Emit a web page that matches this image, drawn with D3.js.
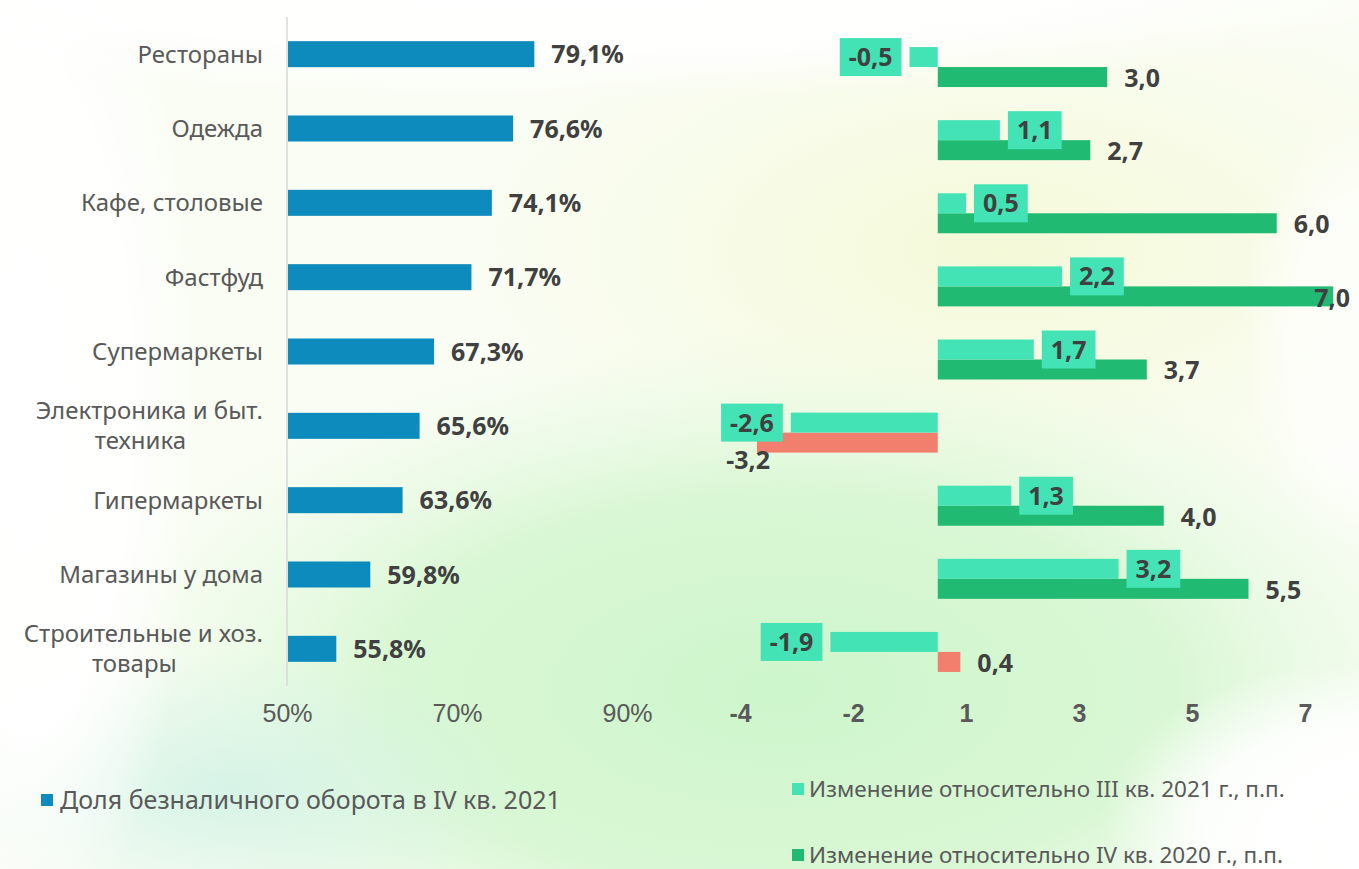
<!DOCTYPE html>
<html>
<head>
<meta charset="utf-8">
<script src="https://cdn.jsdelivr.net/npm/d3@7"></script>
<style>
  body { margin: 0; background: #fff; }
  svg { display: block; font-family: "Noto Sans", "Open Sans", sans-serif; }
</style>
</head>
<body>
<svg id="chart" width="1359" height="869"></svg>
<script>
// categories, top to bottom
var categories = [
  "Рестораны",
  "Одежда",
  "Кафе, столовые",
  "Фастфуд",
  "Супермаркеты",
  "Электроника и быт.\nтехника",
  "Гипермаркеты",
  "Магазины у дома",
  "Строительные и хоз.\nтовары"
];

// share of cashless turnover, Q4 2021, %
var shareQ4 = [79.1, 76.6, 74.1, 71.7, 67.3, 65.6, 63.6, 59.8, 55.8];

// change vs Q3 2021, p.p.
var changeQ3 = [-0.5, 1.1, 0.5, 2.2, 1.7, -2.6, 1.3, 3.2, -1.9];

// change vs Q4 2020, p.p.
var changeQ4prev = [3.0, 2.7, 6.0, 7.0, 3.7, -3.2, 4.0, 5.5, 0.4];

var leftTicks = [50, 70, 90];
var rightTicks = [-3.5, -1.5, 0.5, 2.5, 4.5, 6.5];

var seriesNames = [
  "Доля безналичного оборота в IV кв. 2021",
  "Изменение относительно III кв. 2021 г., п.п.",
  "Изменение относительно IV кв. 2020 г., п.п."
];

var blue = "#0e8bbd",
    teal = "#44e3b5",
    green = "#21ba72",
    salmon = "#f27e6e",
    textDark = "#404040",
    textGray = "#595959";

var svg = d3.select("#chart");
var defs = svg.append("defs");

// background glow
function radial(id, stops) {
  var g = defs.append("radialGradient").attr("id", id);
  stops.forEach(function(s) {
    g.append("stop").attr("offset", s[0]).attr("stop-color", s[1]).attr("stop-opacity", s[2]);
  });
}
radial("glowGreen", [[0, "#cdf6cc", 1], [0.55, "#d4f6cf", 0.85], [1, "#e8fae4", 0]]);
radial("glowYellow", [[0, "#f4f9d8", 1], [1, "#f6fadc", 0]]);
radial("glowWhite", [[0, "#ffffff", 1], [0.6, "#ffffff", 0.9], [1, "#ffffff", 0]]);
radial("glowCyan", [[0, "#d3f2e6", 0.9], [1, "#d5f3e6", 0]]);

svg.append("rect").attr("width", 1359).attr("height", 869).attr("fill", "#fafdf4");
svg.append("ellipse").attr("cx", 1000).attr("cy", 250).attr("rx", 560).attr("ry", 280).attr("fill", "url(#glowYellow)");
svg.append("ellipse").attr("cx", 780).attr("cy", 690).attr("rx", 720).attr("ry", 360).attr("fill", "url(#glowGreen)");
svg.append("ellipse").attr("cx", 230).attr("cy", 790).attr("rx", 300).attr("ry", 140).attr("fill", "url(#glowCyan)");
svg.append("ellipse").attr("cx", 560).attr("cy", -20).attr("rx", 900).attr("ry", 120).attr("fill", "url(#glowWhite)");
svg.append("ellipse").attr("cx", 30).attr("cy", 400).attr("rx", 170).attr("ry", 560).attr("fill", "url(#glowWhite)");
svg.append("ellipse").attr("cx", 1360).attr("cy", 830).attr("rx", 260).attr("ry", 170).attr("fill", "url(#glowWhite)");
svg.append("ellipse").attr("cx", 1360).attr("cy", 330).attr("rx", 120).attr("ry", 220).attr("fill", "url(#glowWhite)").attr("opacity", 0.7);

// ---------- left panel ----------
var xL = d3.scaleLinear().domain([50, 100]).range([287, 712]);
var yL = d3.scaleBand().domain(d3.range(categories.length))
    .range([17, 686]).paddingInner(0.65).paddingOuter(0.325);

var left = svg.append("g");

left.append("line")
    .attr("x1", xL(50)).attr("x2", xL(50))
    .attr("y1", 17).attr("y2", 686)
    .attr("stroke", "#d9d9d9").attr("stroke-width", 1.5);

left.selectAll("rect.share")
    .data(shareQ4)
  .enter().append("rect")
    .attr("class", "share")
    .attr("x", xL(50) + 1)
    .attr("y", function(d, i) { return yL(i); })
    .attr("width", function(d) { return xL(d) - xL(50) - 1; })
    .attr("height", yL.bandwidth())
    .attr("fill", blue);

left.selectAll("text.share")
    .data(shareQ4)
  .enter().append("text")
    .attr("class", "share")
    .attr("x", function(d) { return xL(d) + 17; })
    .attr("y", function(d, i) { return yL(i) + yL.bandwidth() / 2; })
    .attr("dy", "0.36em")
    .attr("font-size", 25).attr("font-weight", "bold")
    .attr("fill", textDark)
    .text(function(d) { return d3.format(".1f")(d).replace(".", ",") + "%"; });

// category labels (wrapped ones are centred under the first line)
categories.forEach(function(c, i) {
  var lines = c.split("\n"),
      cy = yL(i) + yL.bandwidth() / 2;
  if (lines.length == 1) {
    left.append("text")
        .attr("font-size", 24).attr("fill", textGray)
        .attr("text-anchor", "end")
        .attr("x", 263).attr("y", cy).attr("dy", "0.36em").text(c);
    return;
  }
  var first = left.append("text")
      .attr("font-size", 24).attr("fill", textGray)
      .attr("text-anchor", "end")
      .attr("x", 263).attr("y", cy - 15).attr("dy", "0.36em").text(lines[0]);
  var w = first.node().getComputedTextLength();
  left.append("text")
      .attr("font-size", 24).attr("fill", textGray)
      .attr("text-anchor", "middle")
      .attr("x", 263 - w / 2 - 9).attr("y", cy + 15).attr("dy", "0.36em").text(lines[1]);
});

var axisL = left.append("g")
    .attr("transform", "translate(0,704)")
    .call(d3.axisBottom(xL).tickValues(leftTicks).tickSize(0).tickFormat(function(d) { return d + "%"; }));
axisL.select(".domain").remove();
axisL.selectAll("text").attr("font-size", 25).attr("fill", textGray)
    .attr("font-family", null).attr("dy", "0.71em").attr("y", 0);

// ---------- right panel ----------
var xR = d3.scaleLinear().domain([-3.5, 7.5]).range([740, 1361.5]);
var yR = d3.scaleBand().domain(d3.range(categories.length))
    .range([30.5, 688.5]).paddingInner(0.453).paddingOuter(0.2265);
var ySub = d3.scaleBand().domain([0, 1]).range([0, yR.bandwidth()]);

var right = svg.append("g");
var fmt = function(v) { return d3.format(".1f")(v).replace(".", ",").replace("−", "-"); };

// change vs IV 2020 (lower bar)
right.selectAll("rect.prev")
    .data(changeQ4prev)
  .enter().append("rect")
    .attr("class", "prev")
    .attr("x", function(d) { return Math.min(xR(0), xR(d)); })
    .attr("y", function(d, i) { return yR(i) + ySub(1); })
    .attr("width", function(d) { return Math.abs(xR(d) - xR(0)); })
    .attr("height", ySub.bandwidth())
    .attr("fill", function(d) { return d < 1 ? salmon : green; });

// change vs III 2021 (upper bar)
right.selectAll("rect.q3")
    .data(changeQ3)
  .enter().append("rect")
    .attr("class", "q3")
    .attr("x", function(d) { return Math.min(xR(0), xR(d)); })
    .attr("y", function(d, i) { return yR(i) + ySub(0); })
    .attr("width", function(d) { return Math.abs(xR(d) - xR(0)); })
    .attr("height", ySub.bandwidth())
    .attr("fill", teal);

// labels for IV 2020 series
right.selectAll("text.prev")
    .data(changeQ4prev)
  .enter().append("text")
    .attr("class", "prev")
    .attr("font-size", 25).attr("font-weight", "bold")
    .attr("fill", textDark)
    .attr("dy", "0.36em")
    .text(fmt)
    .each(function(d, i) {
      var t = d3.select(this),
          cy = yR(i) + ySub(1) + ySub.bandwidth() / 2,
          w = this.getComputedTextLength();
      if (d < 0) {
        t.attr("text-anchor", "end").attr("x", xR(d) + 13).attr("y", cy + 17);
      } else if (xR(d) + 17 + w > 1355) {
        t.attr("text-anchor", "end").attr("x", 1350).attr("y", cy + 2);
      } else {
        t.attr("x", xR(d) + 17).attr("y", cy + 1);
      }
    });

// boxed labels for III 2021 series
var q3Lab = right.selectAll("g.q3lab")
    .data(changeQ3)
  .enter().append("g")
    .attr("class", "q3lab");

q3Lab.each(function(d, i) {
  var g = d3.select(this),
      cy = yR(i) + ySub(0) + ySub.bandwidth() / 2;
  var rect = g.append("rect").attr("fill", teal);
  var t = g.append("text")
      .attr("font-size", 25).attr("font-weight", "bold")
      .attr("fill", textDark).attr("text-anchor", "middle")
      .attr("dy", "0.36em").attr("y", cy)
      .text(fmt(d));
  var w = t.node().getComputedTextLength() + 18,
      x0 = d < 0 ? xR(d) - 8 - w : xR(d) + 8;
  rect.attr("x", x0).attr("y", cy - 19).attr("width", w).attr("height", 38);
  t.attr("x", x0 + w / 2);
});

var axisR = right.append("g")
    .attr("transform", "translate(0,704)")
    .call(d3.axisBottom(xR).tickValues(rightTicks).tickSize(0)
      .tickFormat(function(d) { return String(Math.sign(d) * Math.round(Math.abs(d))); }));
axisR.select(".domain").remove();
axisR.selectAll("text").attr("font-size", 25).attr("font-weight", "bold")
    .attr("fill", textGray).attr("font-family", null).attr("dy", "0.71em").attr("y", 0);

// ---------- legends ----------
var legend = [
  { x: 41, y: 800, size: 25, color: blue, name: seriesNames[0] },
  { x: 792, y: 789, size: 22.5, color: teal, name: seriesNames[1] },
  { x: 792, y: 855, size: 22.5, color: green, name: seriesNames[2] }
];
var lg = svg.selectAll("g.legend")
    .data(legend)
  .enter().append("g")
    .attr("class", "legend")
    .attr("transform", function(d) { return "translate(" + d.x + "," + d.y + ")"; });
lg.append("rect").attr("x", 0).attr("y", -6).attr("width", 12).attr("height", 12)
    .attr("fill", function(d) { return d.color; });
lg.append("text").attr("x", function(d) { return d.size > 24 ? 19 : 17; }).attr("dy", "0.36em")
    .attr("font-size", function(d) { return d.size; }).attr("fill", textGray)
    .text(function(d) { return d.name; });
</script>
</body>
</html>
